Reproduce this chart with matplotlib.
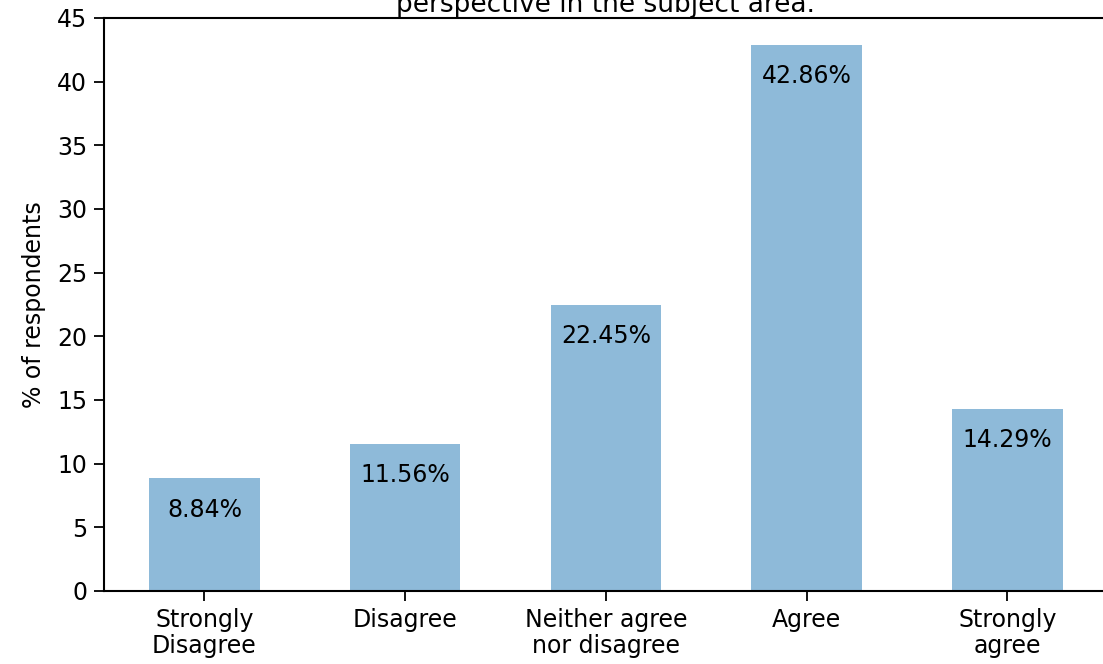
#!/usr/bin/env python3
"""
Survey response bar chart (% of respondents per answer)
"""

import numpy as np
from matplotlib import pyplot as plt

categories = ["Strongly\nDisagree", "Disagree", "Neither agree\nnor disagree", "Agree", "Strongly\nagree"]
percentages = [8.84, 11.56, 22.45, 42.86, 14.29]
value_labels = ["8.84%", "11.56%", "22.45%", "42.86%", "14.29%"]
yticks = [0, 5, 10, 15, 20, 25, 30, 35, 40, 45]
title = "perspective in the subject area."

if __name__ == "__main__":

    plt.rcParams["font.family"] = "DejaVu Sans"
    plt.rcParams["font.size"] = 16

    fig = plt.figure(figsize = (11.03, 6.64), dpi = 100)
    ax = fig.add_axes([0.0943, 0.110, 0.910, 0.863])

    x = np.arange(len(categories))
    ax.bar(x, percentages, width = 0.55, color = "#1f77b4", alpha = 0.5, zorder = 2)

    for xi, h, lab in zip(x, percentages, value_labels):
        ax.text(xi, h - 3, lab, ha = "center", va = "baseline", size = 17, color = "black")

    ax.set_xlim([-0.5, 4.5])
    ax.set_ylim([0, 45])
    ax.set_yticks(yticks)
    ax.set_xticks(x)
    ax.set_xticklabels(categories, size = 17, linespacing = 1.15)
    ax.tick_params(axis = "both", labelsize = 17, length = 7, width = 1.3, pad = 5)
    ax.set_ylabel("% of respondents", size = 17, labelpad = 8)

    for s in ax.spines.values():
        s.set_linewidth(1.5)

    ax.set_title(title, size = 19, pad = 1)

    plt.savefig("out.png", dpi = 100)
    plt.close()
